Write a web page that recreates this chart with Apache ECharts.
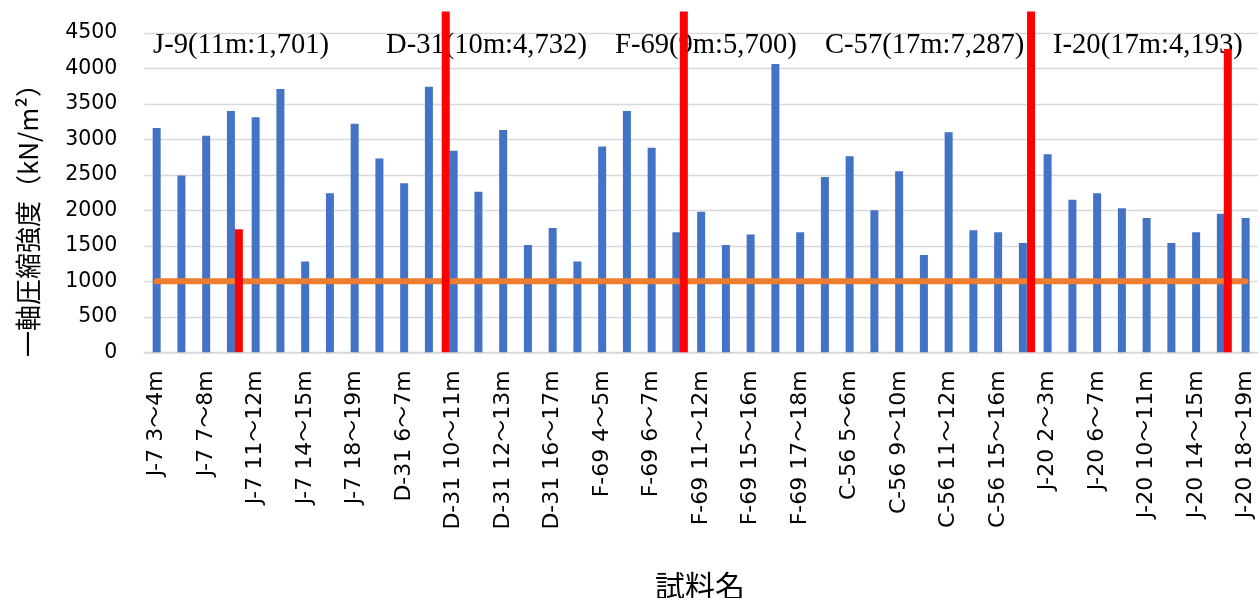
<!DOCTYPE html>
<html>
<head>
<meta charset="utf-8">
<script src="https://cdn.jsdelivr.net/npm/echarts@6/dist/echarts.min.js"></script>
<style>
  html, body { margin: 0; padding: 0; background: #fff; }
  #chart { width: 1258px; height: 598px; }
</style>
</head>
<body>
<div id="chart"></div>
<script>
// Sample names (every other one is labelled on the axis)
const categories = [
  'J-7 3〜4m', 'J-7 5〜6m', 'J-7 7〜8m', 'J-7 9〜10m', 'J-7 11〜12m',
  'J-7 12〜13m', 'J-7 14〜15m', 'J-7 16〜17m', 'J-7 18〜19m', 'D-31 3〜4m',
  'D-31 6〜7m', 'D-31 8〜9m', 'D-31 10〜11m', 'D-31 11〜12m', 'D-31 12〜13m',
  'D-31 14〜15m', 'D-31 16〜17m', 'F-69 2〜3m', 'F-69 4〜5m', 'F-69 5〜6m',
  'F-69 6〜7m', 'F-69 8〜9m', 'F-69 11〜12m', 'F-69 13〜14m', 'F-69 15〜16m',
  'F-69 16〜17m', 'F-69 17〜18m', 'C-56 3〜4m', 'C-56 5〜6m', 'C-56 7〜8m',
  'C-56 9〜10m', 'C-56 10〜11m', 'C-56 11〜12m', 'C-56 13〜14m', 'C-56 15〜16m',
  'C-56 17〜18m', 'J-20 2〜3m', 'J-20 4〜5m', 'J-20 6〜7m', 'J-20 8〜9m',
  'J-20 10〜11m', 'J-20 12〜13m', 'J-20 14〜15m', 'J-20 16〜17m', 'J-20 18〜19m'
];

// Unconfined compressive strength of each sample (kN/m²)
const strength = [
  3160, 2490, 3050, 3400, 3310, 3710, 1280, 2240, 3220, 2730,
  2380, 3740, 2840, 2260, 3130, 1510, 1750, 1280, 2900, 3400,
  2880, 1690, 1980, 1510, 1660, 4060, 1690, 2470, 2760, 2000,
  2550, 1370, 3100, 1720, 1690, 1540, 2790, 2150, 2240, 2030,
  1890, 1540, 1690, 1950, 1890
];

// Reference strength line (kN/m²)
const standard = [
  1000, 1000, 1000, 1000, 1000, 1000, 1000, 1000, 1000, 1000,
  1000, 1000, 1000, 1000, 1000, 1000, 1000, 1000, 1000, 1000,
  1000, 1000, 1000, 1000, 1000, 1000, 1000, 1000, 1000, 1000,
  1000, 1000, 1000, 1000, 1000, 1000, 1000, 1000, 1000, 1000,
  1000, 1000, 1000, 1000, 1000
];

// Comparison borings: name, depth (m), strength (kN/m²), position along the sample axis
const boringNames = ['J-9', 'D-31', 'F-69', 'C-57', 'I-20'];
const boringDepths = [11, 10, 9, 17, 17];
const boringValues = [1701, 4732, 5700, 7287, 4193];
const boringPos = [3.32, 11.68, 21.3, 35.33, 43.28];

const yTickValues = [0, 500, 1000, 1500, 2000, 2500, 3000, 3500, 4000, 4500];

const CJK = '"Noto Sans CJK JP", sans-serif';
const LATIN = '"DejaVu Sans", "Noto Sans CJK JP", sans-serif';

const chart = echarts.init(document.getElementById('chart'), null, { renderer: 'canvas' });

const boringLabels = boringNames.map((n, i) =>
  n + '(' + boringDepths[i] + 'm:' + boringValues[i].toLocaleString('en-US') + ')');
const labelX = [153, 386, 615, 825, 1053];

const option = {
  backgroundColor: '#ffffff',
  animation: false,
  grid: { left: 144.3, top: 11.5, width: 1117.8, height: 340.8, containLabel: false },
  xAxis: [
    {
      type: 'category',
      data: categories,
      boundaryGap: true,
      axisLine: { show: true, lineStyle: { color: '#d9d9d9', width: 1.5 } },
      axisTick: { show: false },
      axisLabel: {
        interval: 1,
        rotate: 90,
        margin: 18,
        color: '#000',
        fontFamily: LATIN,
        fontSize: 22
      },
      splitLine: { show: false }
    },
    {
      type: 'value',
      min: -0.5,
      max: categories.length - 0.5,
      show: false
    }
  ],
  yAxis: [
    {
      type: 'value',
      min: yTickValues[0],
      max: 4800,
      interval: yTickValues[1] - yTickValues[0],
      axisLine: { show: false },
      axisTick: { show: false },
      axisLabel: {
        showMaxLabel: false,
        margin: 27,
        color: '#000',
        fontFamily: LATIN,
        fontSize: 20.5,
        formatter: (v) => String(v)
      },
      splitLine: { show: true, showMaxLine: false, lineStyle: { color: '#d9d9d9', width: 1.3 } }
    },
    {
      type: 'value',
      min: 0,
      max: 4710,
      show: false
    }
  ],
  graphic: [
    {
      type: 'text',
      x: 28,
      y: 214,
      rotation: Math.PI / 2,
      z: 1,
      style: {
        text: '一軸圧縮強度（kN/m²）',
        fill: '#000',
        font: '26px ' + CJK,
        align: 'center',
        verticalAlign: 'middle'
      }
    },
    {
      type: 'text',
      x: 700,
      y: 586,
      z: 1,
      style: {
        text: '試料名',
        fill: '#000',
        font: '30px ' + CJK,
        align: 'center',
        verticalAlign: 'middle'
      }
    }
  ].concat(boringLabels.map((t, i) => ({
    type: 'text',
    x: labelX[i],
    y: 45,
    z: 1,
    style: {
      text: t,
      fill: '#000',
      font: '28.6px "Liberation Serif", "Times New Roman", serif',
      align: 'left',
      verticalAlign: 'middle'
    }
  }))),
  series: [
    {
      name: '一軸圧縮強度',
      type: 'bar',
      data: strength,
      barWidth: 8,
      z: 2,
      itemStyle: { color: '#4472C4' }
    },
    {
      name: '基準値',
      type: 'line',
      data: standard,
      symbol: 'none',
      z: 3,
      lineStyle: { color: '#ED7D31', width: 6, cap: 'round' }
    },
    {
      name: '比較ボーリング',
      type: 'bar',
      xAxisIndex: 1,
      yAxisIndex: 1,
      barWidth: 8,
      z: 4,
      data: boringPos.map((p, i) => [p, boringValues[i]]),
      itemStyle: { color: '#FF0000' }
    }
  ]
};

chart.setOption(option);
</script>
</body>
</html>
